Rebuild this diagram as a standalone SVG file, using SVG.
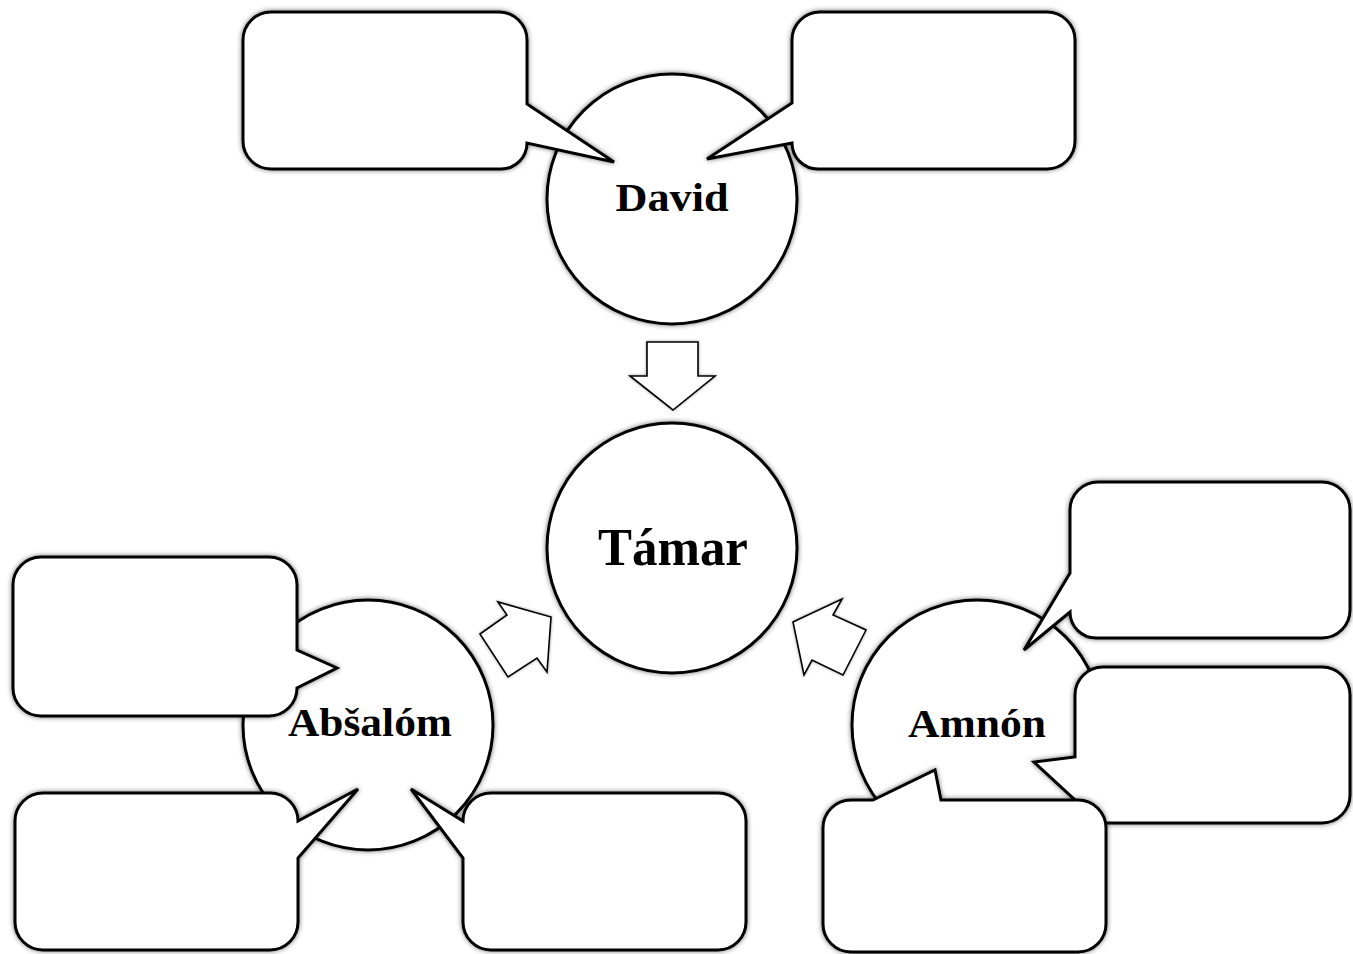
<svg xmlns="http://www.w3.org/2000/svg" width="1353" height="954" viewBox="0 0 1353 954">
<style>
.shape{fill:#fff;stroke:#000;stroke-width:3;stroke-linejoin:miter;filter:url(#sh)}
.arrow{fill:#fff;stroke:#000;stroke-width:1.6;stroke-linejoin:miter;filter:url(#sh2)}
.lbl{font-family:"Liberation Serif","Times New Roman",serif;font-weight:bold;fill:#000;text-anchor:middle}
</style>
<defs>
<filter id="sh" x="-10%" y="-10%" width="120%" height="120%">
<feDropShadow dx="0" dy="0" stdDeviation="2.5" flood-color="#000" flood-opacity="0.55"/>
</filter>
<filter id="sh2" x="-10%" y="-10%" width="120%" height="120%">
<feDropShadow dx="0" dy="0" stdDeviation="1.5" flood-color="#000" flood-opacity="0.4"/>
</filter>
</defs>
<rect width="1353" height="954" fill="#fff"/>

<g id="david">
<circle class="shape" cx="672" cy="199" r="125"/>
<path class="shape" d="M271,12 H499 A28,28 0 0 1 527,40 V104 L614,162 L527,143 A26,26 0 0 1 501,169 H271 A28,28 0 0 1 243,141 V40 A28,28 0 0 1 271,12 Z"/>
<path class="shape" d="M820,12 H1047 A28,28 0 0 1 1075,40 V141 A28,28 0 0 1 1047,169 H818 A26,26 0 0 1 792,143 L707,159 L792,103 V40 A28,28 0 0 1 820,12 Z"/>
<text class="lbl" x="672" y="211" font-size="40" textLength="113" lengthAdjust="spacingAndGlyphs">David</text>
</g>

<g id="tamar">
<circle class="shape" cx="672" cy="548" r="125"/>
<text class="lbl" x="673" y="565" font-size="52" textLength="150" lengthAdjust="spacingAndGlyphs">Támar</text>
</g>

<g id="absalom">
<circle class="shape" cx="368" cy="725" r="125"/>
<path class="shape" d="M41,557 H269 A28,28 0 0 1 297,585 V650 L337,668 L297,688 A28,28 0 0 1 269,716 H41 A28,28 0 0 1 13,688 V585 A28,28 0 0 1 41,557 Z"/>
<path class="shape" d="M43,793 H270 A28,28 0 0 1 298,821 L358,789 L298,858 V922 A28,28 0 0 1 270,950 H43 A28,28 0 0 1 15,922 V821 A28,28 0 0 1 43,793 Z"/>
<path class="shape" d="M491,793 H718 A28,28 0 0 1 746,821 V922 A28,28 0 0 1 718,950 H491 A28,28 0 0 1 463,922 V858 L411,789 L463,821 A28,28 0 0 1 491,793 Z"/>
<text class="lbl" x="370" y="736" font-size="40" textLength="164" lengthAdjust="spacingAndGlyphs">Abšalóm</text>
</g>

<g id="amnon">
<circle class="shape" cx="977" cy="725" r="125"/>
<path class="shape" d="M1098,482 H1322 A28,28 0 0 1 1350,510 V610 A28,28 0 0 1 1322,638 H1096 A26,26 0 0 1 1070,612 L1024,650 L1070,573 V510 A28,28 0 0 1 1098,482 Z"/>
<path class="shape" d="M1103,667 H1322 A28,28 0 0 1 1350,695 V795 A28,28 0 0 1 1322,823 H1098 A23,23 0 0 1 1075,800 L1034,762 L1075,757 V695 A28,28 0 0 1 1103,667 Z"/>
<path class="shape" d="M851,800 H873 L935,770 L941,800 H1078 A28,28 0 0 1 1106,828 V924 A28,28 0 0 1 1078,952 H851 A28,28 0 0 1 823,924 V828 A28,28 0 0 1 851,800 Z"/>
<text class="lbl" x="977" y="737" font-size="40" textLength="138" lengthAdjust="spacingAndGlyphs">Amnón</text>
</g>

<g id="connectors">
<polygon class="arrow" points="647,342 698,342 698,376 715,376 673,410 630,376 647,376"/>
<polygon class="arrow" points="498,602 507,615 480,634 508,677 537,658 547,672 551,617"/>
<polygon class="arrow" points="842,599 833,615 866,630 843,675 812,660 804,675 793,622"/>
</g>
</svg>
